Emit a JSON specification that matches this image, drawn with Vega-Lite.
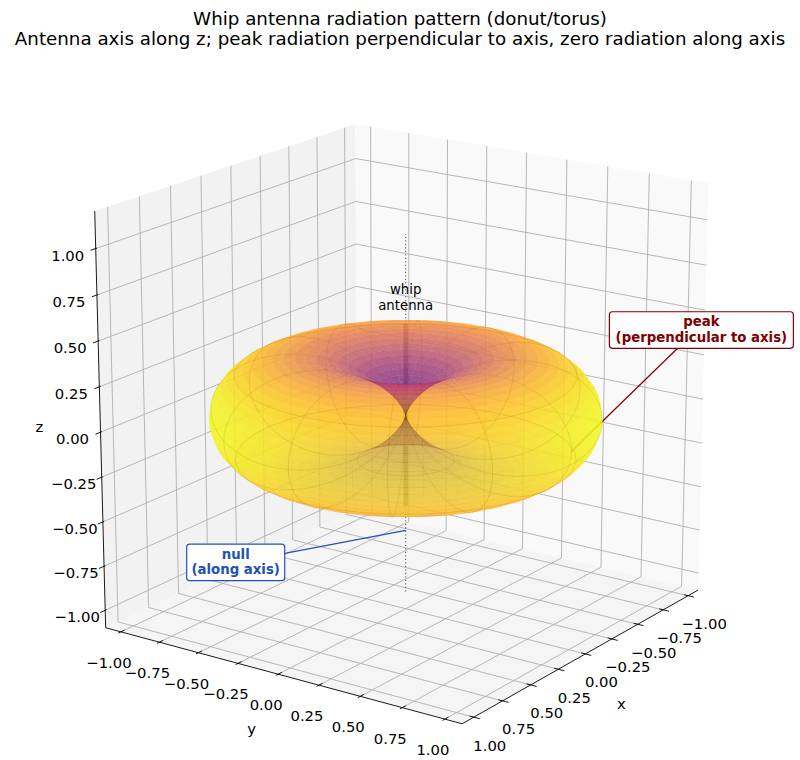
{
  "$schema": "https://vega.github.io/schema/vega-lite/v6.json",
  "width": 800,
  "height": 700,
  "autosize": {"type": "none"},
  "padding": {"left": 0, "top": 60, "right": 0, "bottom": 0},
  "background": "white",
  "title": {
    "text": ["Whip antenna radiation pattern (donut/torus)", "Antenna axis along z; peak radiation perpendicular to axis, zero radiation along axis"],
    "font": "DejaVu Sans", "fontSize": 18.25, "fontWeight": "normal", "color": "black",
    "lineHeight": 19.5, "anchor": "middle", "offset": 11
  },
  "config": {"view": {"stroke": null}, "font": "DejaVu Sans"},
  "datasets": {
    "panes": [
      {"pane": "back_y", "k": 0, "x": 1.1, "y": -1.1, "z": -1.1},
      {"pane": "back_y", "k": 1, "x": -1.1, "y": -1.1, "z": -1.1},
      {"pane": "back_y", "k": 2, "x": -1.1, "y": -1.1, "z": 1.2},
      {"pane": "back_y", "k": 3, "x": 1.1, "y": -1.1, "z": 1.2},
      {"pane": "back_x", "k": 0, "x": -1.1, "y": -1.1, "z": -1.1},
      {"pane": "back_x", "k": 1, "x": -1.1, "y": 1.1, "z": -1.1},
      {"pane": "back_x", "k": 2, "x": -1.1, "y": 1.1, "z": 1.2},
      {"pane": "back_x", "k": 3, "x": -1.1, "y": -1.1, "z": 1.2},
      {"pane": "floor", "k": 0, "x": 1.1, "y": -1.1, "z": -1.1},
      {"pane": "floor", "k": 1, "x": 1.1, "y": 1.1, "z": -1.1},
      {"pane": "floor", "k": 2, "x": -1.1, "y": 1.1, "z": -1.1},
      {"pane": "floor", "k": 3, "x": -1.1, "y": -1.1, "z": -1.1}
    ],
    "frame": [
      {"kind": "grid", "fam": "A", "tk": "x", "t": [-1, -0.75, -0.5, -0.25, 0, 0.25, 0.5, 0.75, 1], "s": [0, 1], "y0": -1.1, "y1": -1.1, "z0": -1.1, "z1": 1.2},
      {"kind": "grid", "fam": "B", "tk": "z", "t": [-1, -0.75, -0.5, -0.25, 0, 0.25, 0.5, 0.75, 1], "s": [0, 1], "x0": 1.1, "x1": -1.1, "y0": -1.1, "y1": -1.1},
      {"kind": "grid", "fam": "C", "tk": "y", "t": [-1, -0.75, -0.5, -0.25, 0, 0.25, 0.5, 0.75, 1], "s": [0, 1], "x0": -1.1, "x1": -1.1, "z0": -1.1, "z1": 1.2},
      {"kind": "grid", "fam": "D", "tk": "z", "t": [-1, -0.75, -0.5, -0.25, 0, 0.25, 0.5, 0.75, 1], "s": [0, 1], "x0": -1.1, "x1": -1.1, "y0": -1.1, "y1": 1.1},
      {"kind": "grid", "fam": "E", "tk": "x", "t": [-1, -0.75, -0.5, -0.25, 0, 0.25, 0.5, 0.75, 1], "s": [0, 1], "y0": -1.1, "y1": 1.1, "z0": -1.1, "z1": -1.1},
      {"kind": "grid", "fam": "F", "tk": "y", "t": [-1, -0.75, -0.5, -0.25, 0, 0.25, 0.5, 0.75, 1], "s": [0, 1], "x0": 1.1, "x1": -1.1, "z0": -1.1, "z1": -1.1},
      {"kind": "axis", "fam": "Z", "tk": "-", "t": [0], "s": [0, 1], "x0": 1.1, "x1": 1.1, "y0": -1.1, "y1": -1.1, "z0": -1.1, "z1": 1.2},
      {"kind": "axis", "fam": "Y", "tk": "-", "t": [0], "s": [0, 1], "x0": 1.1, "x1": 1.1, "y0": -1.1, "y1": 1.1, "z0": -1.1, "z1": -1.1},
      {"kind": "axis", "fam": "X", "tk": "-", "t": [0], "s": [0, 1], "x0": 1.1, "x1": -1.1, "y0": 1.1, "y1": 1.1, "z0": -1.1, "z1": -1.1},
      {"kind": "axis", "fam": "zt", "tk": "z", "t": [-1, -0.75, -0.5, -0.25, 0, 0.25, 0.5, 0.75, 1], "s": [0, 1], "x0": 1.14, "x1": 1.09, "y0": -1.1, "y1": -1.1},
      {"kind": "axis", "fam": "yt", "tk": "y", "t": [-1, -0.75, -0.5, -0.25, 0, 0.25, 0.5, 0.75, 1], "s": [0, 1], "x0": 1.12, "x1": 1.07, "z0": -1.1, "z1": -1.1},
      {"kind": "axis", "fam": "xt", "tk": "x", "t": [-1, -0.75, -0.5, -0.25, 0, 0.25, 0.5, 0.75, 1], "s": [0, 1], "y0": 1.075, "y1": 1.135, "z0": -1.1, "z1": -1.1}
    ],
    "labels": [
      {"kind": "tick", "axis": "x", "t": [-1, -0.75, -0.5, -0.25, 0, 0.25, 0.5, 0.75, 1]},
      {"kind": "tick", "axis": "y", "t": [-1, -0.75, -0.5, -0.25, 0, 0.25, 0.5, 0.75, 1]},
      {"kind": "tick", "axis": "z", "t": [-1, -0.75, -0.5, -0.25, 0, 0.25, 0.5, 0.75, 1]},
      {"kind": "title", "axis": "x", "t": [0]},
      {"kind": "title", "axis": "y", "t": [0]},
      {"kind": "title", "axis": "z", "t": [0]}
    ],
    "antenna": [
      {"part": "dots", "x": 0, "y": 0, "z": -1},
      {"part": "dots", "x": 0, "y": 0, "z": 1},
      {"part": "bar", "x": 0, "y": 0, "z": -0.51},
      {"part": "bar", "x": 0, "y": 0, "z": 0.51}
    ],
    "notes": [
      {"id": "whip", "label": "whip\nantenna", "x": 0, "y": 0, "z": 0.65},
      {"id": "null", "label": "null\n(along axis)", "x": 0, "y": 0, "z": -0.65},
      {"id": "peak", "label": "peak\n(perpendicular to axis)", "x": 0, "y": 1, "z": 0}
    ],
    "phis": [
      {"key": "all", "phi": [0,10,20,30,40,50,60,70,80,90,100,110,120,130,140,150,160,170,180,190,200,210,220,230,240,250,260,270,280,290,300,310,320,330,340,350], "phi2": [10,20,30,40,50,60,70,80,90,100,110,120,130,140,150,160,170,180,190,200,210,220,230,240,250,260,270,280,290,300,310,320,330,340,350,360]}
    ],
    "profile": [
      {"j": 0, "rho": 0, "h": 0, "r": 0},
      {"j": 1, "rho": 0.0000036, "h": 0.000083, "r": 0.000083},
      {"j": 2, "rho": 0.0000577, "h": 0.00066, "r": 0.000662},
      {"j": 3, "rho": 0.00029, "h": 0.002205, "r": 0.002224},
      {"j": 4, "rho": 0.000909, "h": 0.005157, "r": 0.005236},
      {"j": 5, "rho": 0.002194, "h": 0.009899, "r": 0.010139},
      {"j": 6, "rho": 0.004487, "h": 0.016747, "r": 0.017338},
      {"j": 7, "rho": 0.008177, "h": 0.025933, "r": 0.027191},
      {"j": 8, "rho": 0.013684, "h": 0.037596, "r": 0.040009},
      {"j": 9, "rho": 0.021447, "h": 0.051778, "r": 0.056044},
      {"j": 10, "rho": 0.0319, "h": 0.06841, "r": 0.075482},
      {"j": 11, "rho": 0.045459, "h": 0.087326, "r": 0.09845},
      {"j": 12, "rho": 0.0625, "h": 0.108253, "r": 0.125},
      {"j": 13, "rho": 0.083342, "h": 0.13082, "r": 0.155112},
      {"j": 14, "rho": 0.108234, "h": 0.154575, "r": 0.188701},
      {"j": 15, "rho": 0.137336, "h": 0.17898, "r": 0.2256},
      {"j": 16, "rho": 0.170715, "h": 0.20345, "r": 0.265585},
      {"j": 17, "rho": 0.208324, "h": 0.227345, "r": 0.308358},
      {"j": 18, "rho": 0.25, "h": 0.25, "r": 0.353553},
      {"j": 19, "rho": 0.295476, "h": 0.270753, "r": 0.400766},
      {"j": 20, "rho": 0.344362, "h": 0.288954, "r": 0.449533},
      {"j": 21, "rho": 0.396157, "h": 0.303982, "r": 0.499345},
      {"j": 22, "rho": 0.450254, "h": 0.315271, "r": 0.549659},
      {"j": 23, "rho": 0.505966, "h": 0.322336, "r": 0.599919},
      {"j": 24, "rho": 0.5625, "h": 0.32476, "r": 0.649519},
      {"j": 25, "rho": 0.619042, "h": 0.322253, "r": 0.697896},
      {"j": 26, "rho": 0.674688, "h": 0.314612, "r": 0.744436},
      {"j": 27, "rho": 0.728548, "h": 0.301774, "r": 0.788574},
      {"j": 28, "rho": 0.779728, "h": 0.283798, "r": 0.829769},
      {"j": 29, "rho": 0.827325, "h": 0.260855, "r": 0.867474},
      {"j": 30, "rho": 0.870513, "h": 0.233253, "r": 0.901221},
      {"j": 31, "rho": 0.908505, "h": 0.201411, "r": 0.930563},
      {"j": 32, "rho": 0.940602, "h": 0.165853, "r": 0.955112},
      {"j": 33, "rho": 0.966218, "h": 0.127205, "r": 0.974555},
      {"j": 34, "rho": 0.984866, "h": 0.086165, "r": 0.988628},
      {"j": 35, "rho": 0.996197, "h": 0.043495, "r": 0.997146},
      {"j": 36, "rho": 1, "h": 0, "r": 1},
      {"j": 37, "rho": 0.996197, "h": -0.043495, "r": 0.997146},
      {"j": 38, "rho": 0.984866, "h": -0.086165, "r": 0.988628},
      {"j": 39, "rho": 0.966218, "h": -0.127205, "r": 0.974555},
      {"j": 40, "rho": 0.940602, "h": -0.165853, "r": 0.955112},
      {"j": 41, "rho": 0.908505, "h": -0.201411, "r": 0.930563},
      {"j": 42, "rho": 0.870513, "h": -0.233253, "r": 0.901221},
      {"j": 43, "rho": 0.827325, "h": -0.260855, "r": 0.867474},
      {"j": 44, "rho": 0.779728, "h": -0.283798, "r": 0.829769},
      {"j": 45, "rho": 0.728548, "h": -0.301774, "r": 0.788574},
      {"j": 46, "rho": 0.674688, "h": -0.314612, "r": 0.744436},
      {"j": 47, "rho": 0.619042, "h": -0.322253, "r": 0.697896},
      {"j": 48, "rho": 0.5625, "h": -0.32476, "r": 0.649519},
      {"j": 49, "rho": 0.505966, "h": -0.322336, "r": 0.599919},
      {"j": 50, "rho": 0.450254, "h": -0.315271, "r": 0.549659},
      {"j": 51, "rho": 0.396157, "h": -0.303982, "r": 0.499345},
      {"j": 52, "rho": 0.344362, "h": -0.288954, "r": 0.449533},
      {"j": 53, "rho": 0.295476, "h": -0.270753, "r": 0.400766},
      {"j": 54, "rho": 0.25, "h": -0.25, "r": 0.353553},
      {"j": 55, "rho": 0.208324, "h": -0.227345, "r": 0.308358},
      {"j": 56, "rho": 0.170715, "h": -0.20345, "r": 0.265585},
      {"j": 57, "rho": 0.137336, "h": -0.17898, "r": 0.2256},
      {"j": 58, "rho": 0.108234, "h": -0.154575, "r": 0.188701},
      {"j": 59, "rho": 0.083342, "h": -0.13082, "r": 0.155112},
      {"j": 60, "rho": 0.0625, "h": -0.108253, "r": 0.125},
      {"j": 61, "rho": 0.045459, "h": -0.087326, "r": 0.09845},
      {"j": 62, "rho": 0.0319, "h": -0.06841, "r": 0.075482},
      {"j": 63, "rho": 0.021447, "h": -0.051778, "r": 0.056044},
      {"j": 64, "rho": 0.013684, "h": -0.037596, "r": 0.040009},
      {"j": 65, "rho": 0.008177, "h": -0.025933, "r": 0.027191},
      {"j": 66, "rho": 0.004487, "h": -0.016747, "r": 0.017338},
      {"j": 67, "rho": 0.002194, "h": -0.009899, "r": 0.010139},
      {"j": 68, "rho": 0.000909, "h": -0.005157, "r": 0.005236},
      {"j": 69, "rho": 0.00029, "h": -0.002205, "r": 0.002224},
      {"j": 70, "rho": 0.0000577, "h": -0.00066, "r": 0.000662},
      {"j": 71, "rho": 0.0000036, "h": -0.000083, "r": 0.000083},
      {"j": 72, "rho": 0, "h": 0, "r": 0}
    ]
  },
  "encoding": {
    "x": {"field": "px", "type": "quantitative", "scale": {"domain": [0, 800], "nice": false, "zero": false}, "axis": null},
    "y": {"field": "py", "type": "quantitative", "scale": {"domain": [60, 760], "reverse": true, "nice": false, "zero": false}, "axis": null}
  },
  "resolve": {"scale": {"color": "independent", "fill": "independent", "stroke": "independent"}},
  "layer": [
    {
      "data": {"name": "panes"},
      "transform": [
        {"calculate": "datum.x / 1.1", "as": "bx"},
        {"calculate": "datum.y / 1.1", "as": "by"},
        {"calculate": "(datum.z - 0.05) / 1.15", "as": "bz"},
        {"calculate": "17.5 / (17.5 - 0.7791 * datum.bx - 0.5455 * datum.by - 0.309 * datum.bz)", "as": "pf"},
        {"calculate": "405.7 + 216.35 * datum.pf * (0.8192 * datum.by - 0.5736 * datum.bx)", "as": "px"},
        {"calculate": "406.5 - 216.35 * datum.pf * (0.9511 * datum.bz - 0.2531 * datum.bx - 0.1772 * datum.by)", "as": "py"}
      ],
      "mark": {"type": "line", "strokeOpacity": 0, "fillOpacity": 1},
      "encoding": {
        "fill": {"field": "pane", "type": "nominal", "scale": {"domain": ["back_y", "back_x", "floor"], "range": ["#f2f2f2", "#f9f9f9", "#f5f5f5"]}, "legend": null},
        "detail": {"field": "pane"},
        "order": {"field": "k", "type": "quantitative"}
      }
    },
    {
      "data": {"name": "frame"},
      "transform": [
        {"flatten": ["t"]},
        {"flatten": ["s"]},
        {"calculate": "datum.tk == 'x' ? datum.t : (datum.s == 0 ? datum.x0 : datum.x1)", "as": "x"},
        {"calculate": "datum.tk == 'y' ? datum.t : (datum.s == 0 ? datum.y0 : datum.y1)", "as": "y"},
        {"calculate": "datum.tk == 'z' ? datum.t : (datum.s == 0 ? datum.z0 : datum.z1)", "as": "z"},
        {"calculate": "datum.fam + '_' + datum.t", "as": "gid"},
        {"calculate": "datum.x / 1.1", "as": "bx"},
        {"calculate": "datum.y / 1.1", "as": "by"},
        {"calculate": "(datum.z - 0.05) / 1.15", "as": "bz"},
        {"calculate": "17.5 / (17.5 - 0.7791 * datum.bx - 0.5455 * datum.by - 0.309 * datum.bz)", "as": "pf"},
        {"calculate": "405.7 + 216.35 * datum.pf * (0.8192 * datum.by - 0.5736 * datum.bx)", "as": "px"},
        {"calculate": "406.5 - 216.35 * datum.pf * (0.9511 * datum.bz - 0.2531 * datum.bx - 0.1772 * datum.by)", "as": "py"}
      ],
      "mark": {"type": "line", "strokeWidth": 0.9},
      "encoding": {
        "detail": {"field": "gid"},
        "order": {"field": "s", "type": "quantitative"},
        "color": {"field": "kind", "type": "nominal", "scale": {"domain": ["grid", "axis"], "range": ["#b0b0b0", "#000000"]}, "legend": null}
      }
    },
    {
      "data": {"name": "labels"},
      "transform": [
        {"flatten": ["t"]},
        {"calculate": "datum.kind == 'title' && datum.axis == 'z' ? 0.05 : datum.t", "as": "tt"},
        {"calculate": "datum.axis == 'x' ? datum.tt : 1.1", "as": "x"},
        {"calculate": "datum.axis == 'y' ? datum.tt : (datum.axis == 'x' ? 1.1 : -1.1)", "as": "y"},
        {"calculate": "datum.axis == 'z' ? datum.tt : -1.1", "as": "z"},
        {"calculate": "datum.x / 1.1", "as": "bx"},
        {"calculate": "datum.y / 1.1", "as": "by"},
        {"calculate": "(datum.z - 0.05) / 1.15", "as": "bz"},
        {"calculate": "17.5 / (17.5 - 0.7791 * datum.bx - 0.5455 * datum.by - 0.309 * datum.bz)", "as": "pf"},
        {"calculate": "405.7 + 216.35 * datum.pf * (0.8192 * datum.by - 0.5736 * datum.bx)", "as": "qx"},
        {"calculate": "406.5 - 216.35 * datum.pf * (0.9511 * datum.bz - 0.2531 * datum.bx - 0.1772 * datum.by)", "as": "qy"},
        {"calculate": "datum.kind == 'title' ? datum.axis : replace(format(datum.t, '.2f'), '-', '\u2212')", "as": "lab"},
        {"calculate": "datum.qx + (datum.kind == 'title' ? (datum.axis == 'z' ? -61 : datum.axis == 'y' ? -26.5 : 36) : (datum.axis == 'z' ? -28 : datum.axis == 'y' ? -12 : 16))", "as": "px"},
        {"calculate": "datum.qy + (datum.kind == 'title' ? (datum.axis == 'z' ? 4.6 : datum.axis == 'y' ? 55.8 : 51) : (datum.axis == 'z' ? 8 : datum.axis == 'y' ? 32 : 29.5))", "as": "py"}
      ],
      "mark": {"type": "text", "fontSize": 14.8, "align": "center", "baseline": "middle", "color": "black"},
      "encoding": {"text": {"field": "lab"}}
    },
    {
      "data": {"name": "antenna"},
      "transform": [
        {"calculate": "datum.x / 1.1", "as": "bx"},
        {"calculate": "datum.y / 1.1", "as": "by"},
        {"calculate": "(datum.z - 0.05) / 1.15", "as": "bz"},
        {"calculate": "17.5 / (17.5 - 0.7791 * datum.bx - 0.5455 * datum.by - 0.309 * datum.bz)", "as": "pf"},
        {"calculate": "405.7 + 216.35 * datum.pf * (0.8192 * datum.by - 0.5736 * datum.bx)", "as": "px"},
        {"calculate": "406.5 - 216.35 * datum.pf * (0.9511 * datum.bz - 0.2531 * datum.bx - 0.1772 * datum.by)", "as": "py"}
      ],
      "layer": [
        {
          "transform": [{"filter": "datum.part == 'dots'"}],
          "mark": {"type": "line", "color": "#333333", "strokeWidth": 1, "strokeDash": [1, 2.5]},
          "encoding": {"order": {"field": "z", "type": "quantitative"}}
        },
        {
          "transform": [{"filter": "datum.part == 'bar'"}],
          "mark": {"type": "line", "color": "#3a3a3a", "strokeWidth": 4.5, "opacity": 0.85, "strokeCap": "butt"},
          "encoding": {"order": {"field": "z", "type": "quantitative"}}
        }
      ]
    },
    {
      "data": {"name": "notes"},
      "transform": [
        {"filter": "datum.id != 'whip'"},
        {"calculate": "datum.x / 1.1", "as": "bx"},
        {"calculate": "datum.y / 1.1", "as": "by"},
        {"calculate": "(datum.z - 0.05) / 1.15", "as": "bz"},
        {"calculate": "17.5 / (17.5 - 0.7791 * datum.bx - 0.5455 * datum.by - 0.309 * datum.bz)", "as": "pf"},
        {"calculate": "405.7 + 216.35 * datum.pf * (0.8192 * datum.by - 0.5736 * datum.bx)", "as": "px"},
        {"calculate": "406.5 - 216.35 * datum.pf * (0.9511 * datum.bz - 0.2531 * datum.bx - 0.1772 * datum.by)", "as": "py"},
        {"calculate": "datum.px + (datum.id == 'null' ? -121 : 107)", "as": "tx"},
        {"calculate": "datum.py + (datum.id == 'null' ? 23 : -104)", "as": "ty"}
      ],
      "mark": {"type": "rule", "strokeWidth": 1.2},
      "encoding": {
        "x2": {"field": "tx"},
        "y2": {"field": "ty"},
        "color": {"field": "id", "type": "nominal", "scale": {"domain": ["null", "peak"], "range": ["#2352b6", "#7f0000"]}, "legend": null}
      }
    },
    {
      "data": {"name": "profile"},
      "transform": [
        {"calculate": "datum.j + 1", "as": "jn"},
        {"lookup": "jn", "from": {"data": {"name": "profile"}, "key": "j", "fields": ["rho", "h", "r"]}, "as": ["rho2", "h2", "r2"]},
        {"filter": "isValid(datum.rho2)"},
        {"calculate": "'all'", "as": "key"},
        {"lookup": "key", "from": {"data": {"name": "phis"}, "key": "key", "fields": ["phi", "phi2"]}},
        {"flatten": ["phi", "phi2"]},
        {"calculate": "(datum.r + datum.r2) / 2", "as": "rc"},
        {"calculate": "datum.j + '_' + datum.phi", "as": "pid"},
        {"calculate": "(datum.rho + datum.rho2) / 2", "as": "mr"},
        {"calculate": "(datum.phi + datum.phi2) * PI / 360", "as": "ma"},
        {"calculate": "0.7791 * datum.mr * cos(datum.ma) / 1.1 + 0.5455 * datum.mr * sin(datum.ma) / 1.1 + 0.309 * ((datum.h + datum.h2) / 2 - 0.05) / 1.15", "as": "pw"},
        {"calculate": "floor((datum.pw + 1) / 0.15)", "as": "db"},
        {"calculate": "[datum.rho, datum.rho2, datum.rho2, datum.rho, datum.rho]", "as": "cr"},
        {"calculate": "[datum.h, datum.h2, datum.h2, datum.h, datum.h]", "as": "cz"},
        {"calculate": "[datum.phi, datum.phi, datum.phi2, datum.phi2, datum.phi]", "as": "cp"},
        {"calculate": "[0, 1, 2, 3, 4]", "as": "ck"},
        {"flatten": ["cr", "cz", "cp", "ck"]},
        {"calculate": "datum.cr * cos(datum.cp * PI / 180)", "as": "x"},
        {"calculate": "datum.cr * sin(datum.cp * PI / 180)", "as": "y"},
        {"calculate": "datum.cz", "as": "z"},
        {"calculate": "datum.x / 1.1", "as": "bx"},
        {"calculate": "datum.y / 1.1", "as": "by"},
        {"calculate": "(datum.z - 0.05) / 1.15", "as": "bz"},
        {"calculate": "17.5 / (17.5 - 0.7791 * datum.bx - 0.5455 * datum.by - 0.309 * datum.bz)", "as": "pf"},
        {"calculate": "405.7 + 216.35 * datum.pf * (0.8192 * datum.by - 0.5736 * datum.bx)", "as": "px"},
        {"calculate": "406.5 - 216.35 * datum.pf * (0.9511 * datum.bz - 0.2531 * datum.bx - 0.1772 * datum.by)", "as": "py"}
      ],
      "encoding": {
        "fill": {"field": "rc", "type": "quantitative", "scale": {"scheme": "plasma", "domain": [0, 1]}, "legend": null},
        "stroke": {"field": "rc", "type": "quantitative", "scale": {"scheme": "plasma", "domain": [0, 1]}, "legend": null},
        "detail": {"field": "pid"},
        "order": {"field": "ck", "type": "quantitative"}
      },
      "layer": [
        {"transform": [{"filter": "datum.db <= 0"}], "mark": {"type": "line", "fillOpacity": 0.66, "strokeOpacity": 0.12, "strokeWidth": 0.35}},
        {"transform": [{"filter": "datum.db == 1"}], "mark": {"type": "line", "fillOpacity": 0.66, "strokeOpacity": 0.12, "strokeWidth": 0.35}},
        {"transform": [{"filter": "datum.db == 2"}], "mark": {"type": "line", "fillOpacity": 0.66, "strokeOpacity": 0.12, "strokeWidth": 0.35}},
        {"transform": [{"filter": "datum.db == 3"}], "mark": {"type": "line", "fillOpacity": 0.66, "strokeOpacity": 0.12, "strokeWidth": 0.35}},
        {"transform": [{"filter": "datum.db == 4"}], "mark": {"type": "line", "fillOpacity": 0.66, "strokeOpacity": 0.12, "strokeWidth": 0.35}},
        {"transform": [{"filter": "datum.db == 5"}], "mark": {"type": "line", "fillOpacity": 0.66, "strokeOpacity": 0.12, "strokeWidth": 0.35}},
        {"transform": [{"filter": "datum.db == 6"}], "mark": {"type": "line", "fillOpacity": 0.66, "strokeOpacity": 0.12, "strokeWidth": 0.35}},
        {"transform": [{"filter": "datum.db == 7"}], "mark": {"type": "line", "fillOpacity": 0.66, "strokeOpacity": 0.12, "strokeWidth": 0.35}},
        {"transform": [{"filter": "datum.db == 8"}], "mark": {"type": "line", "fillOpacity": 0.66, "strokeOpacity": 0.12, "strokeWidth": 0.35}},
        {"transform": [{"filter": "datum.db == 9"}], "mark": {"type": "line", "fillOpacity": 0.66, "strokeOpacity": 0.12, "strokeWidth": 0.35}},
        {"transform": [{"filter": "datum.db == 10"}], "mark": {"type": "line", "fillOpacity": 0.66, "strokeOpacity": 0.12, "strokeWidth": 0.35}},
        {"transform": [{"filter": "datum.db == 11"}], "mark": {"type": "line", "fillOpacity": 0.66, "strokeOpacity": 0.12, "strokeWidth": 0.35}},
        {"transform": [{"filter": "datum.db >= 12"}], "mark": {"type": "line", "fillOpacity": 0.66, "strokeOpacity": 0.12, "strokeWidth": 0.35}},
        {
          "transform": [{"filter": "datum.ck == 0 && datum.phi % 30 == 0"}],
          "mark": {"type": "line", "strokeWidth": 0.6},
          "encoding": {
            "fill": {"value": "transparent"},
            "stroke": {"value": "#7a4b00"},
            "strokeOpacity": {"value": 0.22},
            "detail": {"field": "phi"},
            "order": {"field": "j", "type": "quantitative"}
          }
        },
        {
          "transform": [{"filter": "(datum.ck == 0 || (datum.ck == 3 && datum.phi == 350)) && datum.j % 12 == 6"}],
          "mark": {"type": "line", "strokeWidth": 0.6},
          "encoding": {
            "fill": {"value": "transparent"},
            "stroke": {"value": "#7a4b00"},
            "strokeOpacity": {"value": 0.22},
            "detail": {"field": "j"},
            "order": {"field": "cp", "type": "quantitative"}
          }
        }
      ]
    },
    {
      "data": {"name": "notes"},
      "transform": [
        {"calculate": "datum.x / 1.1", "as": "bx"},
        {"calculate": "datum.y / 1.1", "as": "by"},
        {"calculate": "(datum.z - 0.05) / 1.15", "as": "bz"},
        {"calculate": "17.5 / (17.5 - 0.7791 * datum.bx - 0.5455 * datum.by - 0.309 * datum.bz)", "as": "pf"},
        {"calculate": "405.7 + 216.35 * datum.pf * (0.8192 * datum.by - 0.5736 * datum.bx)", "as": "px"},
        {"calculate": "406.5 - 216.35 * datum.pf * (0.9511 * datum.bz - 0.2531 * datum.bx - 0.1772 * datum.by)", "as": "py"},
        {"calculate": "datum.px + (datum.id == 'null' ? -170 : datum.id == 'peak' ? 130 : 0)", "as": "cx"},
        {"calculate": "datum.py + (datum.id == 'null' ? 32 : datum.id == 'peak' ? -121.5 : 0)", "as": "cy"},
        {"calculate": "datum.id == 'null' ? 49 : 92", "as": "hw"},
        {"calculate": "datum.cx - datum.hw", "as": "bx1"},
        {"calculate": "datum.cx + datum.hw", "as": "bx2"},
        {"calculate": "datum.cy - 18.3", "as": "by1"},
        {"calculate": "datum.cy + 18.3", "as": "by2"}
      ],
      "layer": [
        {
          "transform": [{"filter": "datum.id != 'whip'"}],
          "mark": {"type": "rect", "fill": "white", "cornerRadius": 3, "strokeWidth": 1.2},
          "encoding": {
            "x": {"field": "bx1", "type": "quantitative", "scale": {"domain": [0, 800], "nice": false, "zero": false}, "axis": null},
            "x2": {"field": "bx2"},
            "y": {"field": "by1", "type": "quantitative", "scale": {"domain": [60, 760], "reverse": true, "nice": false, "zero": false}, "axis": null},
            "y2": {"field": "by2"},
            "stroke": {"field": "id", "type": "nominal", "scale": {"domain": ["null", "peak"], "range": ["#2352b6", "#7f0000"]}, "legend": null}
          }
        },
        {
          "transform": [{"filter": "datum.id != 'whip'"}],
          "mark": {"type": "text", "fontWeight": "bold", "fontSize": 13.3, "lineBreak": "\n", "lineHeight": 15.5, "align": "center", "baseline": "middle", "dy": -7.7},
          "encoding": {
            "x": {"field": "cx", "type": "quantitative", "scale": {"domain": [0, 800], "nice": false, "zero": false}, "axis": null},
            "y": {"field": "cy", "type": "quantitative", "scale": {"domain": [60, 760], "reverse": true, "nice": false, "zero": false}, "axis": null},
            "text": {"field": "label"},
            "color": {"field": "id", "type": "nominal", "scale": {"domain": ["null", "peak"], "range": ["#2352b6", "#7f0000"]}, "legend": null}
          }
        },
        {
          "transform": [{"filter": "datum.id == 'whip'"}],
          "mark": {"type": "text", "fontSize": 13.3, "lineBreak": "\n", "lineHeight": 15.5, "align": "center", "baseline": "middle", "dy": -7.7, "color": "black"},
          "encoding": {"text": {"field": "label"}}
        }
      ]
    }
  ]
}
